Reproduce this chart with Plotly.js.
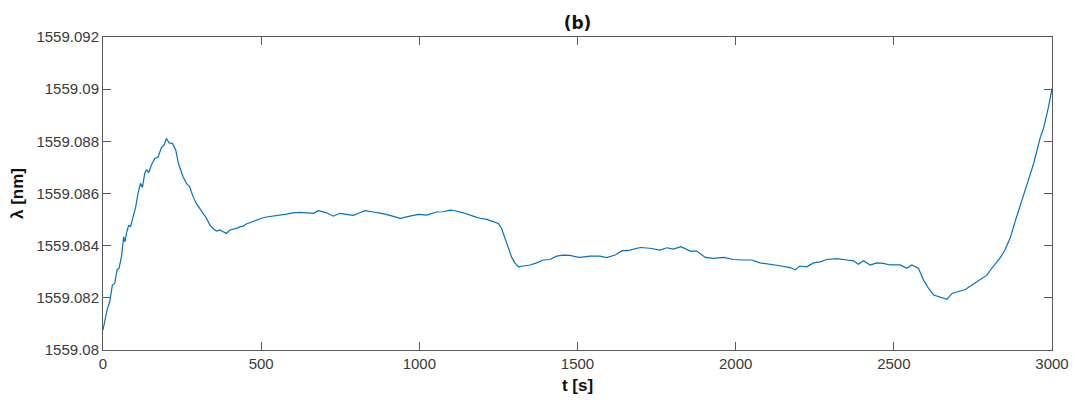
<!DOCTYPE html>
<html>
<head>
<meta charset="utf-8">
<script src="https://cdn.plot.ly/plotly-3.0.1.min.js"></script>
<style>html,body{margin:0;padding:0;background:#fff;}#chart{width:1074px;height:400px;}</style>
</head>
<body>
<div id="chart"></div>
<script>
// time [s]
const timeS = [0,5.4,12.7,21.2,26.6,29.7,37,44.3,50.6,58.2,65.5,69.6,74,81.3,86.7,94.9,103.4,110.7,118.3,124.6,131.9,137.3,144.6,153.1,163.6,174,184.7,193,200.6,208.8,219.6,230,238.5,253,264,274,285,295,306,316,327,338,348,359,369,380,390,401,411,422,432,443,453,464,474,485,496,506,517,538,559,580,601,622,644,665,681,707,728,749,770,791,812,828,854,881,907,939,970,997,1023,1055,1076,1097,1113,1139,1170,1192,1213,1234,1250,1260,1271,1281,1292,1302,1313,1329,1350,1371,1392,1413,1434,1455,1476,1497,1508,1540,1571,1592,1619,1640,1666,1698,1729,1761,1782,1803,1827,1856,1877,1904,1930,1962,1993,2025,2051,2077,2109,2140,2172,2188,2203,2225,2246,2267,2288,2320,2351,2372,2388,2404,2425,2446,2467,2488,2520,2541,2557,2578,2594,2610,2626,2647,2668,2684,2705,2726,2747,2773,2794,2815,2836,2852,2868,2884,2899,2921,2942,2963,2973,2989,3000];
// wavelength offset from 1559 nm
const lambdaOffset = [0.08077,0.08109,0.08153,0.08185,0.08217,0.08249,0.08255,0.08307,0.08313,0.08357,0.08434,0.08415,0.08447,0.08479,0.08472,0.08505,0.08549,0.086,0.08639,0.08623,0.08677,0.08692,0.0868,0.08709,0.08734,0.0874,0.08776,0.08785,0.08811,0.08794,0.08792,0.08766,0.08715,0.08664,0.08639,0.08626,0.08587,0.08562,0.08543,0.08524,0.08505,0.08479,0.08466,0.08456,0.0846,0.08453,0.08447,0.0846,0.08462,0.08466,0.08472,0.08475,0.08483,0.08488,0.08492,0.08498,0.08505,0.08507,0.0851,0.08513,0.08517,0.08521,0.08526,0.08528,0.08526,0.08524,0.08534,0.08526,0.08513,0.08524,0.0852,0.08516,0.08526,0.08534,0.08529,0.08524,0.08516,0.08505,0.08513,0.0852,0.08517,0.08529,0.0853,0.08536,0.08534,0.08526,0.08513,0.08505,0.08501,0.08493,0.08485,0.08466,0.08428,0.0839,0.08355,0.08334,0.08319,0.08322,0.08326,0.08334,0.08345,0.08347,0.0836,0.08364,0.08363,0.08357,0.08355,0.0836,0.0836,0.08354,0.08364,0.0838,0.08383,0.08393,0.0839,0.08383,0.08392,0.08387,0.08396,0.08379,0.08379,0.08355,0.08351,0.08355,0.08347,0.08345,0.08345,0.08334,0.08329,0.08323,0.08316,0.08307,0.08322,0.08319,0.08334,0.08338,0.08347,0.0835,0.08345,0.08342,0.08329,0.08342,0.08326,0.08334,0.08332,0.08326,0.08326,0.08313,0.08326,0.08313,0.08268,0.08236,0.08211,0.08204,0.08194,0.08217,0.08223,0.08232,0.08249,0.08271,0.08287,0.08322,0.08353,0.08385,0.0843,0.08495,0.08549,0.08635,0.08715,0.08815,0.08849,0.08932,0.09003];
const yTickVals = [1559.080,1559.082,1559.084,1559.086,1559.088,1559.090,1559.092];
const yTickText = ['1559.08','1559.082','1559.084','1559.086','1559.088','1559.09','1559.092'];
const xTickVals = [0,500,1000,1500,2000,2500,3000];

const lambdaNm = lambdaOffset.map(v => 1559 + v);

const axisCommon = {
  showline: true, mirror: 'ticks', linecolor: '#5a5a5a', linewidth: 1,
  ticks: 'inside', ticklen: 8, tickcolor: '#5a5a5a', tickwidth: 1,
  showgrid: false, zeroline: false,
  tickfont: {family: 'Liberation Sans, Arial, sans-serif', size: 15, color: '#3a3a3a'}
};

const data = [{
  x: timeS, y: lambdaNm, type: 'scatter', mode: 'lines',
  line: {color: '#0072BD', width: 1.2}, hoverinfo: 'skip'
}];

const layout = {
  width: 1074, height: 400,
  margin: {l: 103, r: 22, t: 37, b: 50},
  paper_bgcolor: '#fff', plot_bgcolor: '#fff',
  showlegend: false,
  title: {text: '<b>(b)</b>', x: 0.5, xref: 'paper', xanchor: 'center', y: 0.9425, yref: 'container', yanchor: 'middle',
          font: {family: 'DejaVu Sans, sans-serif', size: 17, color: '#111'}},
  xaxis: Object.assign({}, axisCommon, {
    range: [0, 3000], tickvals: xTickVals, ticktext: xTickVals.map(String),
    title: {text: '<b>t [s]</b>', standoff: 8, font: {family: 'Liberation Sans, Arial, sans-serif', size: 17, color: '#111'}}
  }),
  yaxis: Object.assign({}, axisCommon, {
    range: [1559.080, 1559.092], tickvals: yTickVals, ticktext: yTickText,
    title: {text: '<b>λ [nm]</b>', standoff: 8, font: {family: 'Liberation Sans, Arial, sans-serif', size: 17, color: '#111'}}
  })
};

Plotly.newPlot('chart', data, layout, {displayModeBar: false, staticPlot: true});
</script>
</body>
</html>
